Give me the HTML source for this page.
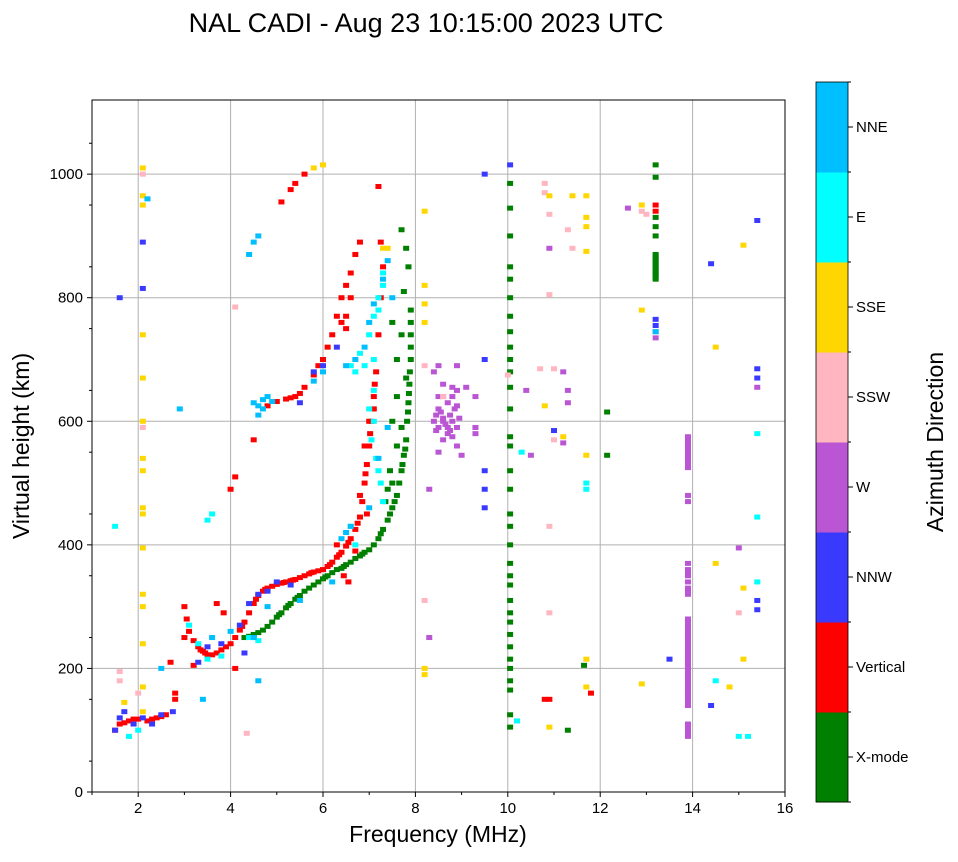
<!DOCTYPE html>
<html><head><meta charset="utf-8"><style>
body{margin:0;background:#fff;font-family:"Liberation Sans",sans-serif}
svg text{font-family:"Liberation Sans",sans-serif}
</style></head><body>
<svg id="chart" width="958" height="857" viewBox="0 0 958 857" xmlns="http://www.w3.org/2000/svg">
<rect width="958" height="857" fill="#fff"/>
<text x="426" y="32" font-size="27" text-anchor="middle">NAL CADI - Aug 23 10:15:00 2023 UTC</text>
<g id="grid"></g>
<g id="marks"></g>
<rect x="92" y="100" width="693" height="692" fill="none" stroke="#000" stroke-width="1"/>
<g id="axes"></g>
<text x="438" y="842" font-size="23" text-anchor="middle">Frequency (MHz)</text>
<text transform="translate(29,446) rotate(-90)" font-size="23" text-anchor="middle">Virtual height (km)</text>
<g id="cbar"></g>
<text transform="translate(943,442) rotate(-90)" font-size="23" text-anchor="middle">Azimuth Direction</text>
</svg>
<script>
const dirNames=["X-mode","Vertical","NNW","W","SSW","SSE","E","NNE"];
const dirColors=["#008000","#ff0000","#3a3aff","#ba55d3","#ffb6c1","#ffd700","#00ffff","#00bfff"];
const xTicks=[2,4,6,8,10,12,14,16];
const yTicks=[0,200,400,600,800,1000];
const xmode=[[4.3,250],[4.4,252],[4.5,255],[4.6,258],[4.7,262],[4.8,268],[4.9,275],[5.0,283],[5.1,290],[5.2,298],[5.3,305],[5.4,312],[5.5,318],[5.6,325],[5.7,330],[5.8,335],[5.9,340],[6.0,345],[6.1,350],[6.2,355],[6.3,360],[6.4,362],[6.5,368],[6.6,372],[6.7,378],[6.8,382],[6.9,388],[7.0,392],[7.1,400],[7.2,410],[7.3,425],[7.4,440],[7.5,460],[7.6,480],[7.65,500],[7.7,520],[7.75,545],[7.8,570],[7.82,600],[7.85,630],[7.87,660],[7.9,700],[7.9,740],[7.9,780],[7.85,850],[7.7,910],[7.5,760],[7.6,640],[7.45,520],[7.35,470],[7.7,590],[7.6,700],[7.75,810],
[4.5,250],[5.05,287],[5.25,302],[5.45,315],[6.05,348],[6.45,365],[6.85,385],[7.25,418],[7.45,450],[7.55,470],[7.72,530],[7.78,555],[7.84,615],[7.86,645],[7.88,680],[7.9,720],[7.9,760],[7.8,880],[7.7,740],[7.6,560],[7.5,600],[7.8,670],[7.4,490],[7.5,500],
[10.05,105],[10.05,125],[10.05,165],[10.05,180],[10.05,200],[10.05,215],[10.05,235],[10.05,255],[10.05,275],[10.05,290],[10.05,310],[10.05,335],[10.05,350],[10.05,370],[10.05,400],[10.05,430],[10.05,450],[10.05,490],[10.05,520],[10.05,560],[10.05,575],[10.05,620],[10.05,655],[10.05,680],[10.05,700],[10.05,720],[10.05,745],[10.05,770],[10.05,800],[10.05,830],[10.05,850],[10.05,900],[10.05,945],[10.05,985],[12.15,545],[12.15,615],[11.65,205],[11.3,100],
[13.2,830],[13.2,834],[13.2,838],[13.2,842],[13.2,846],[13.2,850],[13.2,854],[13.2,858],[13.2,862],[13.2,866],[13.2,870],[13.2,900],[13.2,915],[13.2,930],[13.2,995],[13.2,1015]];
const vertical=[[3.0,300],[3.05,280],[3.1,260],[3.2,245],[3.3,235],[3.4,228],[3.5,222],[3.6,222],[3.7,225],[3.8,230],[3.9,235],[4.0,240],[4.1,250],[4.2,262],[4.3,275],[4.4,290],[4.5,305],[4.6,318],[4.7,325],[4.8,330],[4.9,333],[5.0,336],[5.1,338],[5.2,340],[5.3,342],[5.4,344],[5.5,347],[5.6,350],[5.7,353],[5.8,356],[5.9,358],[6.0,360],[6.1,365],[6.2,372],[6.3,380],[6.4,388],[6.5,398],[6.6,410],[6.7,425],[6.8,445],[6.85,470],[6.9,500],[6.95,530],[7.0,560],[7.05,600],[7.1,640],[7.15,680],[7.2,740],[7.25,800],[7.3,850],[7.25,890],[7.2,980],
[3.35,230],[3.45,225],[4.25,268],[4.55,312],[4.75,328],[5.15,339],[5.35,343],[5.75,355],[6.15,368],[6.35,384],[6.55,404],[6.75,435],[6.92,515],[7.02,580],[7.08,620],[7.12,660],[7.0,600],[6.9,560],[6.8,480],[7.1,620],[6.95,450],[6.7,390],
[4.0,490],[4.1,510],[4.5,570],[4.8,625],[5.0,632],[5.2,636],[5.4,640],[5.6,655],[5.8,675],[6.0,700],[6.1,720],[6.2,740],[6.3,770],[6.4,800],[6.5,820],[6.6,840],[6.7,870],[6.8,890],[5.1,955],[5.3,975],[5.4,985],[5.6,1000],[6.45,350],[6.55,340],[6.3,400],[6.5,770],[6.4,760],[6.5,750],[6.6,800],[5.9,690],[5.3,638],[5.5,645],
[1.5,100],[1.6,110],[1.8,115],[2.0,118],[2.2,115],[2.4,120],[2.6,125],[2.8,150],[2.8,160],[3.0,250],[3.2,205],[2.7,210],[3.85,290],[3.7,305],[4.1,200],[1.7,112],[1.9,118],[2.3,118],[2.5,122],[10.8,150],[10.9,150],[11.8,160],[13.2,950],[13.2,940]];
const nnw=[[1.5,100],[1.6,120],[1.7,130],[1.9,110],[2.1,120],[2.3,110],[2.5,125],[2.75,130],[3.3,210],[3.5,235],[3.8,240],[4.2,270],[4.4,305],[4.6,320],[4.8,325],[5.0,340],[5.3,335],[5.5,630],[5.8,680],[6.0,690],[6.3,720],[2.1,890],[2.1,815],[1.6,800],[4.3,225],[9.5,1000],[10.05,1015],[9.5,700],[9.5,520],[9.5,490],[9.5,460],[11.0,585],[13.2,765],[13.2,755],[13.5,215],[14.4,855],[14.4,140],[15.4,925],[15.4,310],[15.4,295],[15.4,685],[15.4,670]];
const west=[[8.5,690],[8.9,690],[8.4,680],[8.6,660],[8.8,655],[8.9,650],[8.5,640],[8.7,630],[8.5,620],[8.9,625],[8.6,605],[8.8,600],[8.4,600],[8.5,590],[8.9,590],[8.7,580],[8.8,575],[8.6,570],[8.5,550],[8.9,560],[9.0,545],[9.3,590],[9.3,580],[9.3,640],[8.6,600],[8.7,590],[9.1,655],[8.3,490],[8.3,250],[8.45,610],[8.55,615],[8.65,595],[8.75,610],[8.85,620],[8.95,605],[8.45,585],[8.75,585],[8.6,640],[8.8,640],[10.5,545],[11.2,565],[11.2,680],[11.3,630],[11.3,650],[10.4,650],[10.9,880],[12.6,945],
[13.9,90],[13.9,95],[13.9,100],[13.9,105],[13.9,110],[13.9,140],[13.9,145],[13.9,150],[13.9,155],[13.9,160],[13.9,165],[13.9,170],[13.9,175],[13.9,180],[13.9,185],[13.9,190],[13.9,195],[13.9,200],[13.9,205],[13.9,210],[13.9,215],[13.9,220],[13.9,225],[13.9,230],[13.9,235],[13.9,240],[13.9,245],[13.9,250],[13.9,255],[13.9,260],[13.9,265],[13.9,270],[13.9,275],[13.9,280],[13.9,320],[13.9,325],[13.9,330],[13.9,340],[13.9,350],[13.9,355],[13.9,360],[13.9,370],[13.9,470],[13.9,480],[13.9,525],[13.9,530],[13.9,535],[13.9,540],[13.9,545],[13.9,550],[13.9,555],[13.9,560],[13.9,565],[13.9,570],[13.9,575],[15.0,395],[15.4,655],[13.2,735],[13.2,745]];
const ssw=[[1.6,195],[1.6,180],[2.1,1000],[2.1,590],[2.0,160],[4.1,785],[4.35,95],[8.2,310],[10.8,985],[10.8,970],[10.9,935],[10.9,805],[10.9,430],[10.9,290],[10.7,685],[11.0,685],[11.4,880],[11.3,910],[11.0,570],[12.9,940],[13.0,935],[15.0,290],[8.2,690],[8.6,640],[10.0,675]];
const sse=[[2.1,1010],[2.1,965],[2.1,950],[2.1,740],[2.1,670],[2.1,600],[2.1,540],[2.1,520],[2.1,460],[2.1,450],[2.1,395],[2.1,320],[2.1,300],[2.1,240],[2.1,170],[2.1,130],[1.7,145],[7.3,880],[7.4,880],[8.2,940],[8.2,820],[8.2,790],[8.2,760],[8.2,200],[8.2,190],[10.9,965],[11.4,965],[11.7,965],[11.7,930],[11.7,915],[11.7,875],[10.8,625],[11.2,575],[11.7,545],[11.7,215],[11.7,170],[10.9,105],[12.9,950],[12.9,780],[12.9,175],[14.5,720],[14.5,370],[14.8,170],[15.1,885],[15.1,330],[15.1,215],[5.8,1010],[6.0,1015]];
const east=[[6.7,680],[6.6,690],[6.8,710],[7.0,740],[7.1,770],[7.2,800],[7.3,820],[7.2,780],[7.1,700],[7.0,620],[7.05,570],[7.2,520],[7.3,470],[6.6,430],[6.7,400],[3.5,215],[3.8,220],[4.4,250],[4.6,245],[3.1,270],[3.3,240],[3.5,440],[3.6,450],[7.15,540],[7.25,500],[7.1,600],[6.9,690],[10.2,115],[10.3,550],[11.7,500],[11.7,490],[15.0,90],[15.2,90],[15.4,580],[15.4,445],[15.4,340],[14.5,180],[7.3,840],[7.1,650],[1.5,430],[2.0,100],[1.8,90]];
const nne=[[4.6,625],[4.7,635],[4.8,640],[4.6,610],[5.8,665],[6.0,680],[6.5,690],[6.7,700],[6.9,720],[7.0,760],[7.1,790],[7.3,830],[7.4,860],[7.5,800],[4.4,870],[4.5,890],[4.6,900],[2.2,960],[4.6,180],[3.4,150],[13.2,745],[4.0,260],[3.6,250],[4.5,250],[4.8,300],[5.5,310],[6.2,340],[6.5,420],[7.0,460],[7.2,540],[7.4,590],[2.9,620],[2.5,200],[4.7,620],[4.9,632],[4.5,630],[6.6,430],[6.4,410]];
const series=[xmode,vertical,nnw,west,ssw,sse,east,nne];

const NS="http://www.w3.org/2000/svg";
const X0=92,X1=785,Y0=792,Y1=100;
function xs(f){return X0+(f-1)/15*(X1-X0);}
function ys(h){return Y0-h/1120*(Y0-Y1);}
function mk(tag,attrs,parent){const e=document.createElementNS(NS,tag);for(const k in attrs)e.setAttribute(k,attrs[k]);parent.appendChild(e);return e;}
const grid=document.getElementById('grid'),axes=document.getElementById('axes'),marks=document.getElementById('marks'),cbar=document.getElementById('cbar');
xTicks.forEach(t=>{const x=xs(t);
 const g=mk('line',{x1:x,x2:x,y1:Y1,y2:Y0,stroke:'#b0b0b0','stroke-width':1},grid);
 
 mk('line',{x1:x,x2:x,y1:Y0,y2:Y0+5,stroke:'#000'},axes);
 const tx=mk('text',{x:x,y:Y0+21,'font-size':15,'text-anchor':'middle'},axes);tx.textContent=t;
 });
yTicks.forEach(t=>{const y=ys(t);
 const g=mk('line',{x1:X0,x2:X1,y1:y,y2:y,stroke:'#b0b0b0','stroke-width':1},grid);
 
 mk('line',{x1:X0-5,x2:X0,y1:y,y2:y,stroke:'#000'},axes);
 const tx=mk('text',{x:X0-9,y:y+5,'font-size':15,'text-anchor':'end'},axes);tx.textContent=t;
 });
for(let h=50;h<1120;h+=100){const y=ys(h);mk('line',{x1:X0-3,x2:X0,y1:y,y2:y,stroke:'#000'},axes);}
for(let f=1;f<16;f+=1){if(f%2===1){const x=xs(f);mk('line',{x1:x,x2:x,y1:Y0,y2:Y0+3,stroke:'#000'},axes);}}
series.forEach((s,i)=>{s.forEach(p=>{
 const r=mk('rect',{x:xs(p[0])-3,y:ys(p[1])-2.5,width:6,height:5,fill:dirColors[i]},marks);
 
 });});
const CX=816,CW=32,CT=82,CB=802,seg=(CB-CT)/8;
dirNames.forEach((n,i)=>{const y=CB-(i+1)*seg;
 const r=mk('rect',{x:CX,y:y,width:CW,height:seg+0.5,fill:dirColors[i]},cbar);
 
 mk('line',{x1:CX+CW,x2:CX+CW+5,y1:y+seg/2,y2:y+seg/2,stroke:'#000'},cbar);
 const t=mk('text',{x:CX+CW+8,y:y+seg/2+5,'font-size':15},cbar);t.textContent=n;
 });
for(let i=0;i<=8;i++){const y=CT+i*seg;mk('line',{x1:CX+CW,x2:CX+CW+3,y1:y,y2:y,stroke:'#000'},cbar);}
mk('rect',{x:CX,y:CT,width:CW,height:CB-CT,fill:'none',stroke:'#000','stroke-width':0.8},cbar);
</script>
</body></html>
